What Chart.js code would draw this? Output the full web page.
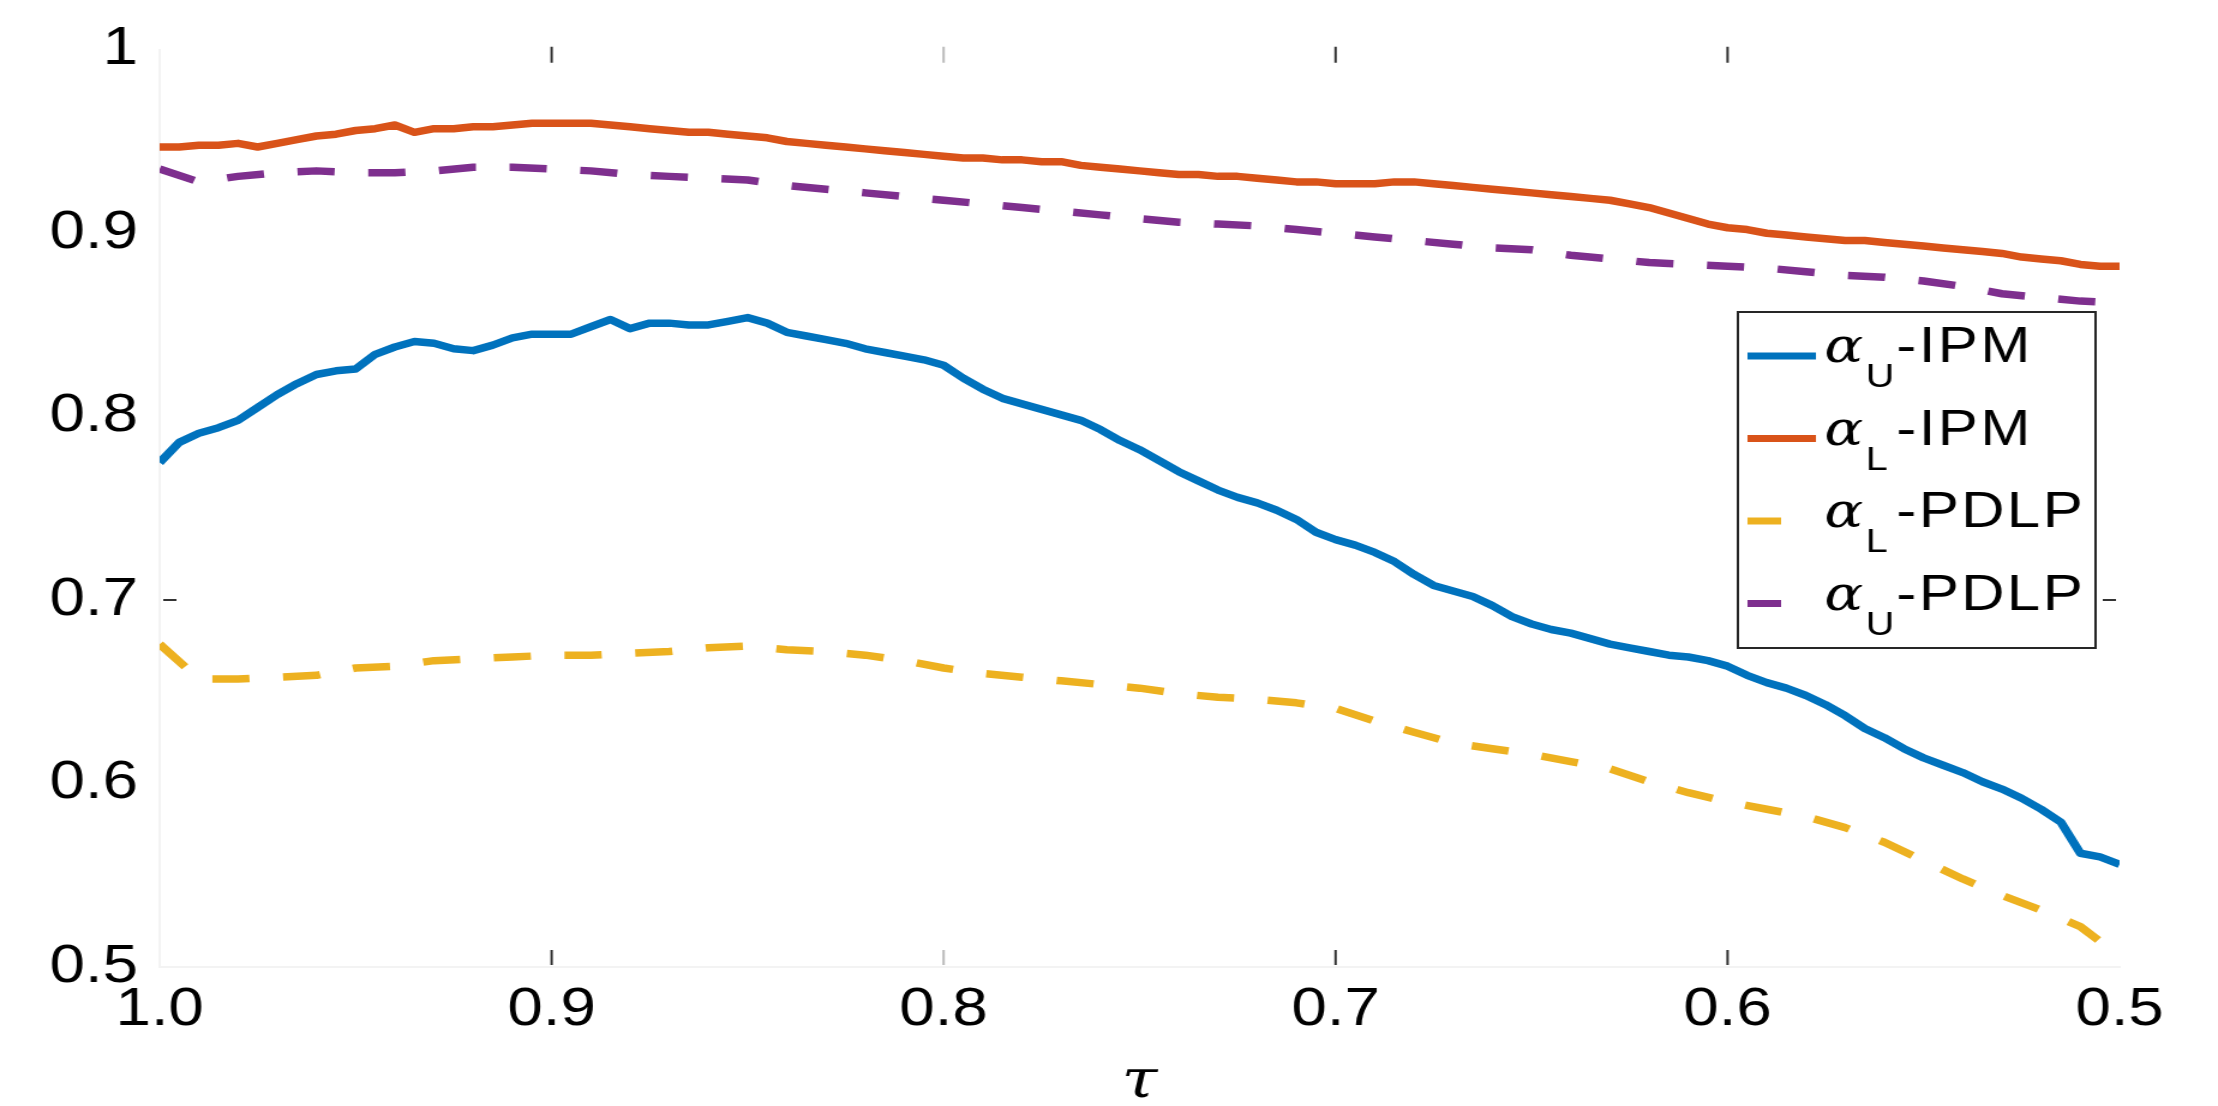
<!DOCTYPE html>
<html>
<head>
<meta charset="utf-8">
<title>alpha vs tau</title>
<script src="https://cdn.jsdelivr.net/npm/chart.js@4.4.1/dist/chart.umd.min.js"></script>
<style>
    html, body { margin: 0; padding: 0; background: #fff; overflow: hidden; }
    /* the source figure is stretched sideways, so the whole chart is drawn narrow and widened */
    #wrap { position: absolute; left: 0; top: 0; width: 1848px; height: 1106px; transform: scaleX(1.2002); transform-origin: 0 0; }
</style>
</head>
<body>
<div id="wrap"><canvas id="myChart" width="1848" height="1106"></canvas></div>
<script>
// tau values (x), fine grid for the IPM curves, coarse grid for the PDLP curves
var tauFine = [1.000, 0.995, 0.990, 0.985, 0.980, 0.975, 0.970, 0.965, 0.960, 0.955,
    0.950, 0.945, 0.940, 0.935, 0.930, 0.925, 0.920, 0.915, 0.910, 0.905,
    0.900, 0.895, 0.890, 0.885, 0.880, 0.875, 0.870, 0.865, 0.860, 0.855,
    0.850, 0.845, 0.840, 0.835, 0.830, 0.825, 0.820, 0.815, 0.810, 0.805,
    0.800, 0.795, 0.790, 0.785, 0.780, 0.775, 0.770, 0.765, 0.760, 0.755,
    0.750, 0.745, 0.740, 0.735, 0.730, 0.725, 0.720, 0.715, 0.710, 0.705,
    0.700, 0.695, 0.690, 0.685, 0.680, 0.675, 0.670, 0.665, 0.660, 0.655,
    0.650, 0.645, 0.640, 0.635, 0.630, 0.625, 0.620, 0.615, 0.610, 0.605,
    0.600, 0.595, 0.590, 0.585, 0.580, 0.575, 0.570, 0.565, 0.560, 0.555,
    0.550, 0.545, 0.540, 0.535, 0.530, 0.525, 0.520, 0.515, 0.510, 0.505,
    0.500];
var tauCoarse = [1.00, 0.99, 0.98, 0.97, 0.96, 0.95, 0.94, 0.93, 0.92, 0.91,
    0.90, 0.89, 0.88, 0.87, 0.86, 0.85, 0.84, 0.83, 0.82, 0.81,
    0.80, 0.79, 0.78, 0.77, 0.76, 0.75, 0.74, 0.73, 0.72, 0.71,
    0.70, 0.69, 0.68, 0.67, 0.66, 0.65, 0.64, 0.63, 0.62, 0.61,
    0.60, 0.59, 0.58, 0.57, 0.56, 0.55, 0.54, 0.53, 0.52, 0.51,
    0.50];

var alphaUIpm = [0.775, 0.786, 0.791, 0.794, 0.798, 0.805, 0.812, 0.818, 0.823, 0.825,
    0.826, 0.834, 0.838, 0.841, 0.840, 0.837, 0.836, 0.839, 0.843, 0.845,
    0.845, 0.845, 0.849, 0.853, 0.848, 0.851, 0.851, 0.850, 0.850, 0.852,
    0.854, 0.851, 0.846, 0.844, 0.842, 0.840, 0.837, 0.835, 0.833, 0.831,
    0.828, 0.821, 0.815, 0.810, 0.807, 0.804, 0.801, 0.798, 0.793, 0.787,
    0.782, 0.776, 0.770, 0.765, 0.760, 0.756, 0.753, 0.749, 0.744, 0.737,
    0.733, 0.730, 0.726, 0.721, 0.714, 0.708, 0.705, 0.702, 0.697, 0.691,
    0.687, 0.684, 0.682, 0.679, 0.676, 0.674, 0.672, 0.670, 0.669, 0.667,
    0.664, 0.659, 0.655, 0.652, 0.648, 0.643, 0.637, 0.630, 0.625, 0.619,
    0.614, 0.610, 0.606, 0.601, 0.597, 0.592, 0.586, 0.579, 0.562, 0.560,
    0.556];
var alphaLIpm = [0.947, 0.947, 0.948, 0.948, 0.949, 0.947, 0.949, 0.951, 0.953, 0.954,
    0.956, 0.957, 0.959, 0.955, 0.957, 0.957, 0.958, 0.958, 0.959, 0.960,
    0.960, 0.960, 0.960, 0.959, 0.958, 0.957, 0.956, 0.955, 0.955, 0.954,
    0.953, 0.952, 0.950, 0.949, 0.948, 0.947, 0.946, 0.945, 0.944, 0.943,
    0.942, 0.941, 0.941, 0.940, 0.940, 0.939, 0.939, 0.937, 0.936, 0.935,
    0.934, 0.933, 0.932, 0.932, 0.931, 0.931, 0.930, 0.929, 0.928, 0.928,
    0.927, 0.927, 0.927, 0.928, 0.928, 0.927, 0.926, 0.925, 0.924, 0.923,
    0.922, 0.921, 0.920, 0.919, 0.918, 0.916, 0.914, 0.911, 0.908, 0.905,
    0.903, 0.902, 0.900, 0.899, 0.898, 0.897, 0.896, 0.896, 0.895, 0.894,
    0.893, 0.892, 0.891, 0.890, 0.889, 0.887, 0.886, 0.885, 0.883, 0.882,
    0.882];
var alphaLPdlp = [0.676, 0.657, 0.657, 0.658, 0.659, 0.663, 0.664, 0.667, 0.668, 0.669,
    0.670, 0.670, 0.671, 0.672, 0.674, 0.675, 0.673, 0.672, 0.670, 0.667,
    0.663, 0.660, 0.658, 0.656, 0.654, 0.652, 0.649, 0.647, 0.646, 0.644,
    0.641, 0.634, 0.628, 0.622, 0.619, 0.616, 0.612, 0.608, 0.601, 0.595,
    0.590, 0.586, 0.582, 0.576, 0.568, 0.558, 0.548, 0.539, 0.531, 0.522,
    0.506];
var alphaUPdlp = [0.935, 0.928, 0.931, 0.933, 0.934, 0.933, 0.933, 0.934, 0.936, 0.936,
    0.935, 0.934, 0.932, 0.931, 0.930, 0.929, 0.926, 0.924, 0.922, 0.920,
    0.918, 0.916, 0.914, 0.912, 0.910, 0.908, 0.906, 0.905, 0.904, 0.902,
    0.900, 0.898, 0.896, 0.894, 0.892, 0.891, 0.888, 0.886, 0.884, 0.883,
    0.882, 0.881, 0.879, 0.877, 0.876, 0.874, 0.871, 0.867, 0.865, 0.863,
    0.862];

// legend text: alpha + subscript + method
var seriesSub = ['U', 'L', 'L', 'U'];
var seriesTail = ['-IPM', '-IPM', '-PDLP', '-PDLP'];
var seriesColors = ['#0072BD', '#D95319', '#EDB120', '#7E2F8E'];
// only these tick marks show up in the picture
var xMarkValues = [0.9, 0.8, 0.7, 0.6];
var yMarkValues = [0.7];

function toPoints(xs, ys) {
    return xs.map(function (x, i) { return {x: x, y: ys[i]}; });
}

var tickFont = {family: '"Liberation Sans", Arial, sans-serif', size: 53};

// small inward tick marks like the matlab axes
var innerTicks = {
    id: 'innerTicks',
    afterDatasetsDraw: function (chart) {
        var ctx = chart.ctx, a = chart.chartArea;
        var sx = chart.scales.x, sy = chart.scales.y;
        ctx.save();
        ctx.lineWidth = 2;
        xMarkValues.forEach(function (v) {
            var px = sx.getPixelForValue(v);
            ctx.strokeStyle = v === 0.8 ? '#bbb' : '#333';
            ctx.beginPath();
            ctx.moveTo(px, a.top - 3); ctx.lineTo(px, a.top + 13);
            ctx.moveTo(px, a.bottom - 17); ctx.lineTo(px, a.bottom - 2);
            ctx.stroke();
        });
        ctx.strokeStyle = '#333';
        yMarkValues.forEach(function (v) {
            var py = sy.getPixelForValue(v);
            ctx.beginPath();
            ctx.moveTo(a.left + 3, py); ctx.lineTo(a.left + 14, py);
            ctx.moveTo(a.right - 14, py); ctx.lineTo(a.right - 3, py);
            ctx.stroke();
        });
        ctx.restore();
    }
};

// boxed legend with subscripts (the built in one can't do them)
var alphaLegend = {
    id: 'alphaLegend',
    afterDraw: function (chart) {
        var ctx = chart.ctx;
        var bx = 1448, by = 312, bw = 298, bh = 336;
        ctx.save();
        ctx.fillStyle = '#fff';
        ctx.fillRect(bx, by, bw, bh);
        ctx.strokeStyle = '#262626';
        ctx.lineWidth = 2;
        ctx.setLineDash([]);
        ctx.strokeRect(bx, by, bw, bh);

        chart.data.datasets.forEach(function (ds, i) {
            var base = by + 50 + 82.5 * i;
            var dashed = ds.borderDash && ds.borderDash.length;
            ctx.strokeStyle = ds.borderColor;
            ctx.lineWidth = 7;
            ctx.beginPath();
            ctx.moveTo(bx + 8, base - 6);
            ctx.lineTo(bx + 8 + (dashed ? 28 : 57), base - 6);
            ctx.stroke();

            ctx.fillStyle = '#000';
            ctx.textBaseline = 'alphabetic';
            ctx.textAlign = 'left';
            var x = bx + 72;
            ctx.font = 'italic 48px "DejaVu Serif", serif';
            ctx.fillText('\u03b1', x, base);
            x += ctx.measureText('\u03b1').width + 2;
            ctx.font = '33px "Liberation Sans", Arial, sans-serif';
            ctx.fillText(seriesSub[i], x, base + 25);
            x = bx + 132;
            ctx.font = '50px "Liberation Sans", Arial, sans-serif';
            if ('letterSpacing' in ctx) ctx.letterSpacing = '2px';
            ctx.fillText(seriesTail[i], x, base);
            if ('letterSpacing' in ctx) ctx.letterSpacing = '0px';
        });
        ctx.restore();
    }
};

var ctx = document.getElementById('myChart').getContext('2d');
var myChart = new Chart(ctx, {
    type: 'line',
    data: {
        datasets: [{
            label: '\u03b1U-IPM',
            data: toPoints(tauFine, alphaUIpm),
            borderColor: seriesColors[0]
        }, {
            label: '\u03b1L-IPM',
            data: toPoints(tauFine, alphaLIpm),
            borderColor: seriesColors[1]
        }, {
            label: '\u03b1L-PDLP',
            data: toPoints(tauCoarse, alphaLPdlp),
            borderColor: seriesColors[2],
            borderDash: [31, 28]
        }, {
            label: '\u03b1U-PDLP',
            data: toPoints(tauCoarse, alphaUPdlp),
            borderColor: seriesColors[3],
            borderDash: [31, 28]
        }]
    },
    options: {
        responsive: false,
        animation: false,
        devicePixelRatio: 1,
        layout: {padding: {top: 38, right: 82, bottom: 0, left: 0}},
        elements: {
            point: {radius: 0},
            line: {borderWidth: 7.5, tension: 0, fill: false, borderJoinStyle: 'round'}
        },
        plugins: {
            legend: {display: false},
            tooltip: {enabled: false}
        },
        scales: {
            x: {
                type: 'linear',
                reverse: true,
                min: 0.5,
                max: 1.0,
                grid: {display: false, drawTicks: false},
                border: {display: true, color: '#f3f3f3', width: 2},
                ticks: {
                    stepSize: 0.1,
                    padding: 12,
                    maxRotation: 0,
                    autoSkip: false,
                    color: '#000',
                    font: tickFont,
                    callback: function (v) { return v.toFixed(1); }
                },
                title: {
                    display: true,
                    text: '\u03c4',
                    color: '#000',
                    font: {family: '"DejaVu Serif", serif', style: 'italic', size: 54, lineHeight: 1},
                    padding: {top: 0, bottom: -4}
                },
                afterFit: function (scale) { scale.height = 139; }
            },
            y: {
                min: 0.5,
                max: 1.0,
                grid: {display: false, drawTicks: false},
                border: {display: true, color: '#f3f3f3', width: 2},
                ticks: {
                    stepSize: 0.1,
                    padding: 18,
                    color: '#000',
                    font: tickFont,
                    callback: function (v) { return Math.abs(v - 1) < 1e-9 ? '1' : v.toFixed(1); }
                },
                afterFit: function (scale) { scale.width = 133; }
            }
        }
    },
    plugins: [innerTicks, alphaLegend]
});
</script>
</body>
</html>
